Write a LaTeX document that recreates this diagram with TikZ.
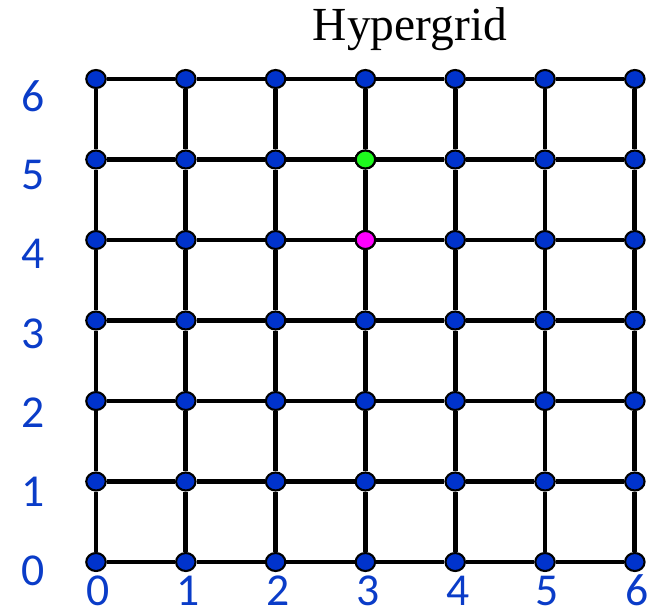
\documentclass[tikz,border=0pt]{standalone}
\usepackage{fontspec}
\setmainfont{Liberation Serif}
\newfontfamily\axisfont{Carlito}
\usetikzlibrary{shapes.geometric, positioning}

\definecolor{dotblue}{RGB}{0,51,204}
\definecolor{axisblue}{RGB}{10,60,200}
\definecolor{dotgreen}{RGB}{30,250,30}
\definecolor{dotpink}{RGB}{255,0,255}

\begin{document}
\begin{tikzpicture}[
    gridnode/.style={ellipse, draw=black, line width=1.2pt, fill=dotblue, minimum width=0.39cm, minimum height=0.36cm, inner sep=0pt},
    edge/.style={line width=2.7pt, black},
    axislabel/.style={text=axisblue, font=\axisfont\fontsize{26}{26}\selectfont, inner sep=0pt}
]
\useasboundingbox (0,0) rectangle (13.06,12.26);

\node[font=\fontsize{27}{27}\selectfont, inner sep=0pt] (title) at (8.2,11.68) {Hypergrid};

% vertices
\foreach \i in {0,...,6} {
  \foreach \j in {0,...,6} {
    \node[gridnode] (v-\i-\j) at (1.92+1.796*\i, 1.02+1.61*\j) {};
  }
}
% marked vertices
\node[gridnode, fill=dotgreen] (start) at (v-3-5) {};
\node[gridnode, fill=dotpink] (target) at (v-3-4) {};

% edges
\foreach \i [evaluate=\i as \k using int(\i+1)] in {0,...,5} {
  \foreach \j in {0,...,6} {
    \draw[edge] (v-\i-\j) -- (v-\k-\j);
    \draw[edge] (v-\j-\i) -- (v-\j-\k);
  }
}

% axis labels
\foreach \j in {0,...,6} {
  \node[axislabel] (ylab-\j) at (0.67, 0.84+1.584*\j) {\j};
  \node[axislabel] (xlab-\j) at (1.97+1.796*\j, 0.45) {\j};
}

\end{tikzpicture}
\end{document}
